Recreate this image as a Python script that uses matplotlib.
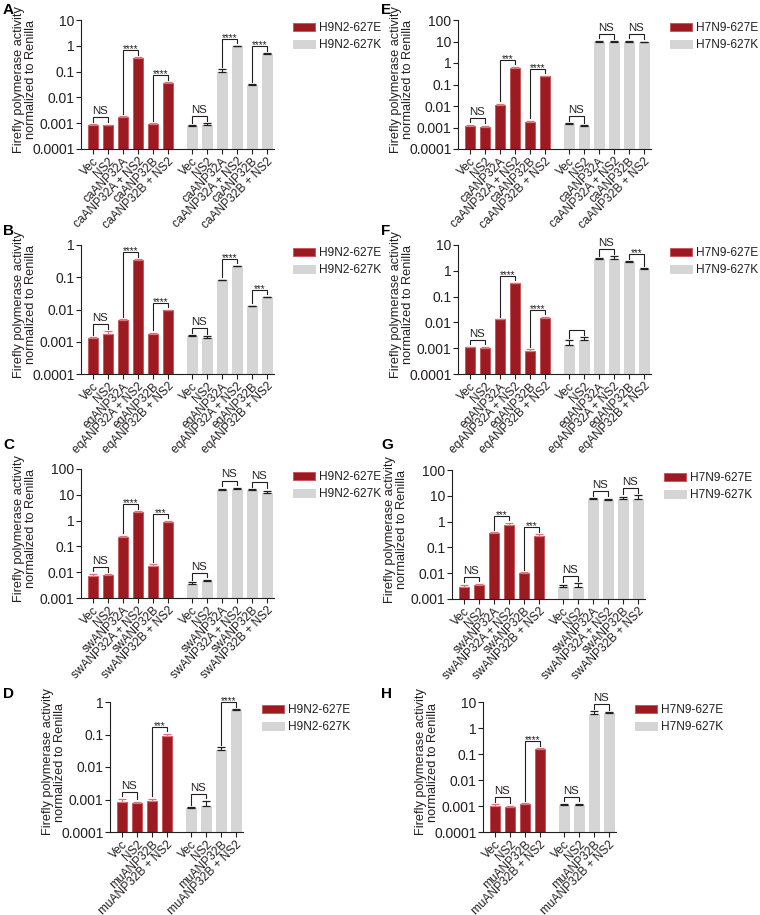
import matplotlib.pyplot as plt
import numpy as np
from matplotlib.patches import Patch

plt.rcParams['font.family'] = ['Liberation Sans', 'DejaVu Sans']

W, H = 760, 915

RED = '#9C1B23'
RED_EDGE = '#C9575E'
RED_ERR = '#D9777C'
GREY = '#D5D5D5'
INK = '#231F20'

SLOT = 15.0      # pixels per bar slot
GAP = 0.6        # extra slots between the two virus groups

# ---------------------------------------------------------------- data
LAB_CA = ["Vec", "NS2", "caANP32A", "caANP32A + NS2", "caANP32B", "caANP32B + NS2"]
LAB_EQ = ["Vec", "NS2", "eqANP32A", "eqANP32A + NS2", "eqANP32B", "eqANP32B + NS2"]
LAB_SW = ["Vec", "NS2", "swANP32A", "swANP32A + NS2", "swANP32B", "swANP32B + NS2"]
LAB_MU = ["Vec", "NS2", "muANP32B", "muANP32B + NS2"]

TICKS_A = [0.0001, 0.001, 0.01, 0.1, 1, 10]
TICKS_B = [0.0001, 0.001, 0.01, 0.1, 1]
TICKS_C = [0.001, 0.01, 0.1, 1, 10, 100]
TICKS_D = [0.0001, 0.001, 0.01, 0.1, 1]
TICKS_E = [0.0001, 0.001, 0.01, 0.1, 1, 10, 100]
TICKS_F = [0.0001, 0.001, 0.01, 0.1, 1, 10]
TICKS_G = [0.001, 0.01, 0.1, 1, 10, 100]
TICKS_H = [0.0001, 0.001, 0.01, 0.1, 1, 10]

# H9N2
A_E = [0.00085, 0.00084, 0.0018, 0.33, 0.0009, 0.035]
A_E_err = [0.00005, 0.00005, 0.0001, 0.03, 0.0001, 0.003]
A_K = [0.00081, 0.00088, 0.1, 0.97, 0.03, 0.49]
A_K_err = [0.00003, 0.0001, 0.025, 0.03, 0.002, 0.02]
A_SIG = [(0, 1, "NS"), (2, 3, "****"), (4, 5, "****"),
         (6, 7, "NS"), (8, 9, "****"), (10, 11, "****")]

B_E = [0.0013, 0.0017, 0.0047, 0.34, 0.0017, 0.0095]
B_E_err = [0.0001, 0.0004, 0.0003, 0.02, 0.0002, 0.0005]
B_K = [0.0015, 0.0013, 0.083, 0.22, 0.0127, 0.024]
B_K_err = [0.0001, 0.0002, 0.002, 0.01, 0.0004, 0.001]
B_SIG = [(0, 1, "NS"), (2, 3, "****"), (4, 5, "****"),
         (6, 7, "NS"), (8, 9, "****"), (10, 11, "***")]

C_E = [0.007, 0.008, 0.23, 2.2, 0.018, 0.85]
C_E_err = [0.0018, 0.0005, 0.03, 0.1, 0.002, 0.12]
C_K = [0.0036, 0.0044, 15.5, 16.5, 15.0, 12.0]
C_K_err = [0.0004, 0.0006, 2.0, 2.5, 1.5, 2.5]
C_SIG = [(0, 1, "NS"), (2, 3, "****"), (4, 5, "***"),
         (6, 7, "NS"), (8, 9, "NS"), (10, 11, "NS")]

D_E = [0.00085, 0.0008, 0.00093, 0.09]
D_E_err = [0.0002, 0.00006, 0.00012, 0.015]
D_K = [0.00053, 0.00062, 0.034, 0.57]
D_K_err = [0.00005, 0.0003, 0.006, 0.02]
D_SIG = [(0, 1, "NS"), (2, 3, "***"), (4, 5, "NS"), (6, 7, "****")]

# H7N9
E_E = [0.0012, 0.0011, 0.011, 0.59, 0.0018, 0.24]
E_E_err = [0.00015, 0.0001, 0.0015, 0.08, 0.0003, 0.02]
E_K = [0.0014, 0.0012, 10.0, 9.8, 10.0, 9.5]
E_K_err = [0.0002, 0.00005, 0.6, 0.5, 0.8, 0.5]
E_SIG = [(0, 1, "NS"), (2, 3, "***"), (4, 5, "****"),
         (6, 7, "NS"), (8, 9, "NS"), (10, 11, "NS")]

F_E = [0.0011, 0.001, 0.013, 0.33, 0.0008, 0.015]
F_E_err = [0.00005, 0.00015, 0.0005, 0.015, 0.0001, 0.0015]
F_K = [0.00135, 0.0021, 2.85, 2.8, 2.2, 1.2]
F_K_err = [0.0007, 0.0006, 0.15, 0.8, 0.15, 0.05]
F_SIG = [(0, 1, "NS"), (2, 3, "****"), (4, 5, "****"),
         (6, 7, ""), (8, 9, "NS"), (10, 11, "***")]

G_E = [0.0028, 0.0034, 0.35, 0.77, 0.01, 0.27]
G_E_err = [0.0008, 0.0005, 0.03, 0.12, 0.001, 0.06]
G_K = [0.0028, 0.003, 7.5, 7.0, 7.8, 7.8]
G_K_err = [0.0008, 0.001, 0.4, 0.8, 1.5, 2.5]
G_SIG = [(0, 1, "NS"), (2, 3, "***"), (4, 5, "***"),
         (6, 7, "NS"), (8, 9, "NS"), (10, 11, "NS")]

H_E = [0.00103, 0.0009, 0.0012, 0.15]
H_E_err = [0.00015, 0.00012, 0.0001, 0.02]
H_K = [0.0011, 0.0011, 3.6, 3.8]
H_K_err = [0.0001, 0.0001, 0.8, 0.3]
H_SIG = [(0, 1, "NS"), (2, 3, "****"), (4, 5, "NS"), (6, 7, "NS")]


# ---------------------------------------------------------------- drawing
def bracket(ax, x1, x2, top1, top2, text):
    to_disp = ax.transData.transform
    to_data = ax.transData.inverted().transform
    d1 = to_disp((x1, top1))
    d2 = to_disp((x2, top2))
    yh = max(d1[1], d2[1]) + 7
    p1 = to_data((d1[0], d1[1] + 2.5))
    p2 = to_data((d2[0], d2[1] + 2.5))
    ph = to_data((d1[0], yh))
    ax.plot([x1, x1, x2, x2], [p1[1], ph[1], ph[1], p2[1]],
            color=INK, lw=0.8, clip_on=False, solid_joinstyle='miter')
    if not text:
        return
    if text == "NS":
        ax.annotate(text, ((x1 + x2) / 2, ph[1]), xytext=(0, 0.8),
                    textcoords='offset points', ha='center', va='bottom',
                    fontsize=8.2, color=INK)
    else:
        ax.annotate(text, ((x1 + x2) / 2, ph[1]), xytext=(0, -1.5),
                    textcoords='offset points', ha='center', va='baseline',
                    fontsize=7, color=INK)


def panel(fig, left, top, bottom, red, red_err, grey, grey_err, labels,
          ticks, sig, strain, letter, letter_xy):
    n = len(labels)
    xr = np.arange(n, dtype=float)
    xg = np.arange(n) + n + GAP
    x0, x1 = -0.78, xg[-1] + 0.5
    width = (x1 - x0) * SLOT
    ax = fig.add_axes([left / W, 1 - bottom / H, width / W, (bottom - top) / H])
    ax.set_yscale('log')
    ymin, ymax = ticks[0], ticks[-1]
    ax.set_xlim(x0, x1)
    ax.set_ylim(ymin, ymax)

    red = np.array(red)
    grey = np.array(grey)
    ax.bar(xr, red - ymin, bottom=ymin, width=0.66, color=RED,
           edgecolor=RED_EDGE, linewidth=0.7, zorder=2)
    ax.bar(xg, grey - ymin, bottom=ymin, width=0.66, color=GREY,
           edgecolor=GREY, linewidth=0.7, zorder=2)
    ax.errorbar(xr, red, yerr=[np.zeros(n), red_err], fmt='none',
                ecolor=RED_ERR, elinewidth=0.8, capsize=3.2, capthick=0.9, zorder=3)
    ax.errorbar(xg, grey, yerr=[np.zeros(n), grey_err], fmt='none',
                ecolor=INK, elinewidth=0.8, capsize=3.0, capthick=0.9, zorder=3)

    ax.set_xticks(np.concatenate([xr, xg]))
    ax.set_xticklabels(labels + labels, rotation=45, ha='right',
                       rotation_mode='anchor', fontsize=8.6, color=INK)
    ax.set_yticks(ticks)
    ax.set_yticklabels([f"{t:g}" for t in ticks], fontsize=10, color=INK)
    ax.yaxis.set_minor_locator(plt.NullLocator())
    ax.tick_params(axis='both', length=3.6, width=0.8, color=INK)
    ax.tick_params(axis='y', pad=1)
    ax.tick_params(axis='x', pad=1)
    for s in ('top', 'right'):
        ax.spines[s].set_visible(False)
    for s in ('left', 'bottom'):
        ax.spines[s].set_linewidth(0.8)
        ax.spines[s].set_color(INK)

    xs = np.concatenate([xr, xg])
    tops = np.concatenate([red + np.array(red_err), grey + np.array(grey_err)])
    for i, j, txt in sig:
        bracket(ax, xs[i], xs[j], tops[i], tops[j], txt)

    # y label
    fig.text((left - 56) / W, 1 - ((top + bottom) / 2 - 5) / H,
             "Firefly polymerase activity\nnormalized to Renilla",
             rotation=90, ha='center', va='center', fontsize=9.2,
             linespacing=1.1, color=INK)

    # legend
    handles = [Patch(facecolor=RED, edgecolor=RED_EDGE, linewidth=0.7),
               Patch(facecolor=GREY, edgecolor=GREY, linewidth=0.7)]
    ax.legend(handles, [f"{strain}-627E", f"{strain}-627K"], loc='upper left',
              bbox_to_anchor=((left + width + 19) / W, 1 - (top + 2) / H),
              bbox_transform=fig.transFigure, frameon=False, fontsize=8.6,
              handlelength=1.85, handleheight=0.6, handletextpad=0.3,
              labelspacing=0.45, borderpad=0, borderaxespad=0,
              labelcolor=INK)

    fig.text(letter_xy[0] / W, 1 - letter_xy[1] / H, letter, fontsize=11,
             fontweight='bold', ha='left', va='top', color='black')
    return ax


fig = plt.figure(figsize=(W / 100, H / 100), dpi=100)

panel(fig, 81, 20, 149, A_E, A_E_err, A_K, A_K_err, LAB_CA, TICKS_A, A_SIG,
      "H9N2", "A", (3, 3))
panel(fig, 81, 245, 374, B_E, B_E_err, B_K, B_K_err, LAB_EQ, TICKS_B, B_SIG,
      "H9N2", "B", (3, 224))
panel(fig, 81, 469, 598, C_E, C_E_err, C_K, C_K_err, LAB_SW, TICKS_C, C_SIG,
      "H9N2", "C", (3, 438))
panel(fig, 110, 702, 832, D_E, D_E_err, D_K, D_K_err, LAB_MU, TICKS_D, D_SIG,
      "H9N2", "D", (3, 687))
panel(fig, 458, 20, 149, E_E, E_E_err, E_K, E_K_err, LAB_CA, TICKS_E, E_SIG,
      "H7N9", "E", (381, 3))
panel(fig, 458, 245, 374, F_E, F_E_err, F_K, F_K_err, LAB_EQ, TICKS_F, F_SIG,
      "H7N9", "F", (381, 224))
panel(fig, 452, 470, 599, G_E, G_E_err, G_K, G_K_err, LAB_SW, TICKS_G, G_SIG,
      "H7N9", "G", (381, 438))
panel(fig, 483, 702, 832, H_E, H_E_err, H_K, H_K_err, LAB_MU, TICKS_H, H_SIG,
      "H7N9", "H", (381, 687))

fig.savefig("out.png", dpi=100)
